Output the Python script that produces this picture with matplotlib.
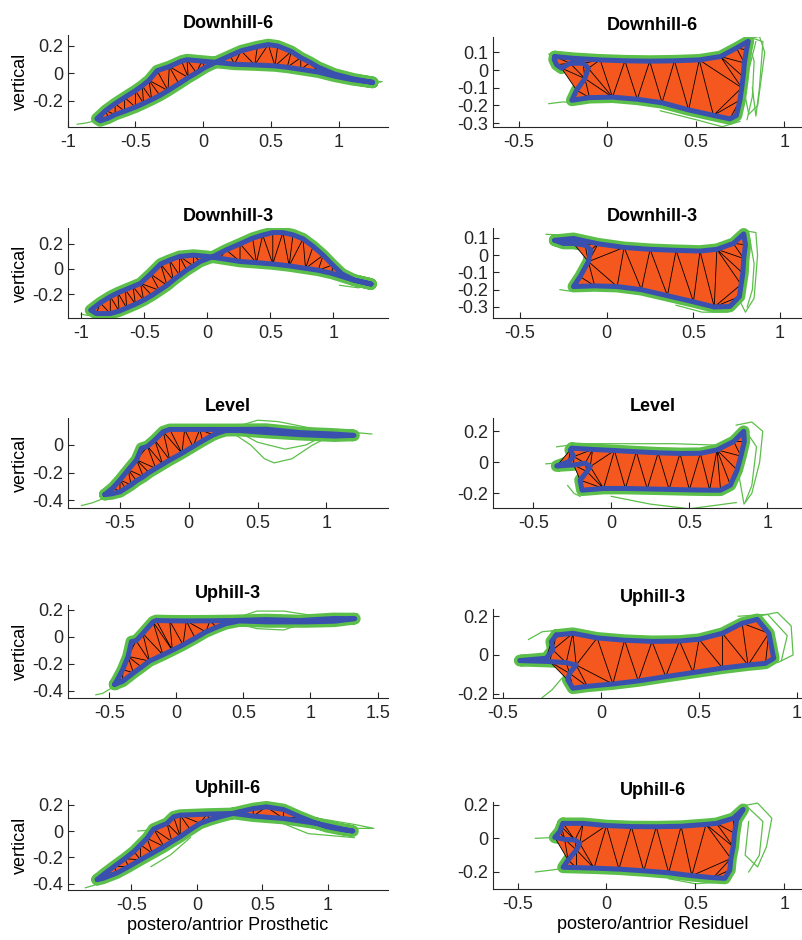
import matplotlib
matplotlib.use("Agg")
import matplotlib.pyplot as plt
import matplotlib.tri as mtri
from matplotlib.path import Path
from matplotlib.collections import PolyCollection
import numpy as np

plt.rcParams["font.family"] = ["Liberation Sans", "DejaVu Sans"]
plt.rcParams["font.size"] = 13

titles = ["Downhill-6", "Downhill-6", "Downhill-3", "Downhill-3", "Level", "Level",
          "Uphill-3", "Uphill-3", "Uphill-6", "Uphill-6"]

# mean loops (blue outline), prosthetic side = left column, residual = right column
dh6_pros_x = [1.25, 1.1, 0.97, 0.85, 0.72, 0.62, 0.53, 0.38, 0.23, 0.1, -0.01, -0.12, -0.16, -0.25, -0.34,
              -0.40, -0.45, -0.50, -0.58, -0.65, -0.72, -0.785, -0.76, -0.70, -0.65, -0.58, -0.50, -0.44,
              -0.38, -0.32, -0.26, -0.18, -0.11, -0.05, 0.012, 0.11, 0.2, 0.28, 0.40, 0.48, 0.55, 0.65,
              0.72, 0.79, 0.85, 0.97, 1.11]
dh6_pros_y = [-0.065, -0.045, -0.02, 0.01, 0.03, 0.045, 0.055, 0.062, 0.067, 0.08, 0.09, 0.10, 0.09, 0.05,
              0.02, -0.05, -0.09, -0.125, -0.175, -0.22, -0.27, -0.33, -0.345, -0.325, -0.30, -0.275,
              -0.245, -0.218, -0.19, -0.16, -0.125, -0.075, -0.03, 0.005, 0.043, 0.09, 0.13, 0.165, 0.195,
              0.21, 0.2, 0.16, 0.115, 0.08, 0.045, -0.005, -0.04]

dh6_res_x = [-0.296, -0.19, -0.04, 0.1, 0.24, 0.38, 0.52, 0.64, 0.73, 0.797, 0.787, 0.775, 0.768, 0.76,
             0.75, 0.73, 0.693, 0.60, 0.46, 0.31, 0.17, 0.03, -0.1, -0.2, -0.173, -0.126, -0.107, -0.136,
             -0.21, -0.258, -0.286, -0.30]
dh6_res_y = [0.076, 0.066, 0.057, 0.052, 0.05, 0.052, 0.057, 0.076, 0.124, 0.162, 0.114, 0.04, -0.038, -0.1,
             -0.17, -0.257, -0.276, -0.256, -0.225, -0.185, -0.165, -0.153, -0.156, -0.171, -0.114, -0.048,
             0.01, 0.038, 0.038, 0.01, 0.03, 0.06]

dh3_pros_x = [1.30, 1.15, 0.99, 0.88, 0.78, 0.65, 0.52, 0.39, 0.26, 0.10, 0.0, -0.11, -0.22, -0.30, -0.37,
              -0.45, -0.53, -0.59, -0.65, -0.71, -0.77, -0.85, -0.926, -0.88, -0.77, -0.70, -0.64, -0.57,
              -0.505, -0.44, -0.38, -0.32, -0.27, -0.22, -0.163, -0.11, -0.058, 0.047, 0.15, 0.26, 0.36,
              0.44, 0.52, 0.60, 0.68, 0.76, 0.84, 0.92, 0.995, 1.07, 1.17]
dh3_pros_y = [-0.12, -0.085, -0.035, -0.01, 0.005, 0.025, 0.04, 0.05, 0.06, 0.085, 0.10, 0.11, 0.10, 0.07,
              0.04, -0.04, -0.115, -0.14, -0.165, -0.19, -0.22, -0.27, -0.328, -0.355, -0.355, -0.335,
              -0.31, -0.28, -0.248, -0.21, -0.17, -0.13, -0.088, -0.05, -0.008, 0.025, 0.059, 0.099, 0.152,
              0.2, 0.245, 0.27, 0.29, 0.29, 0.272, 0.24, 0.18, 0.11, 0.032, -0.04, -0.09]

dh3_res_x = [-0.30, -0.192, -0.05, 0.1, 0.25, 0.40, 0.538, 0.635, 0.73, 0.79, 0.80, 0.79, 0.785, 0.775,
             0.765, 0.71, 0.62, 0.5, 0.35, 0.2, 0.06, -0.07, -0.192, -0.154, -0.106, -0.092, -0.125,
             -0.192, -0.25]
dh3_res_y = [0.085, 0.096, 0.065, 0.044, 0.033, 0.027, 0.023, 0.033, 0.067, 0.122, 0.06, -0.02, -0.105,
             -0.17, -0.24, -0.297, -0.30, -0.27, -0.235, -0.2, -0.182, -0.178, -0.182, -0.125, -0.038,
             0.029, 0.057, 0.067, 0.067]

lev_pros_x = [-0.61, -0.55, -0.5, -0.44, -0.38, -0.344, -0.30, -0.247, -0.186, -0.138, -0.03, 0.08, 0.20,
              0.32, 0.56, 0.81, 1.05, 1.2, 1.06, 0.82, 0.57, 0.37, 0.27, 0.22, 0.177, 0.10, 0.03, -0.05,
              -0.138, -0.19, -0.24, -0.29, -0.33, -0.38, -0.42, -0.46, -0.5, -0.56]
lev_pros_y = [-0.36, -0.31, -0.254, -0.18, -0.108, -0.024, -0.01, 0.036, 0.097, 0.113, 0.113, 0.113, 0.113,
              0.113, 0.115, 0.09, 0.08, 0.07, 0.065, 0.075, 0.09, 0.105, 0.105, 0.09, 0.073, 0.03, -0.012,
              -0.06, -0.109, -0.14, -0.17, -0.2, -0.23, -0.26, -0.29, -0.315, -0.34, -0.355]

lev_res_x = [-0.252, -0.12, 0.02, 0.16, 0.3, 0.44, 0.57, 0.677, 0.784, 0.848, 0.852, 0.83, 0.806, 0.763,
             0.70, 0.63, 0.5, 0.37, 0.23, 0.09, -0.05, -0.188, -0.2, -0.156, -0.135, -0.167, -0.241, -0.35,
             -0.274, -0.241, -0.263]
lev_res_y = [0.091, 0.083, 0.076, 0.068, 0.061, 0.057, 0.058, 0.08, 0.134, 0.2, 0.134, 0.04, -0.05, -0.147,
             -0.18, -0.18, -0.178, -0.175, -0.172, -0.169, -0.169, -0.18, -0.115, -0.06, -0.028, -0.006,
             -0.017, -0.024, 0.004, 0.037, 0.08]

up3_pros_x = [-0.46, -0.43, -0.40, -0.36, -0.335, -0.30, -0.25, -0.174, -0.15, -0.05, 0.074, 0.25, 0.42,
              0.67, 0.92, 1.17, 1.33, 1.18, 0.97, 0.68, 0.47, 0.37, 0.30, 0.22, 0.14, 0.05, -0.03, -0.1,
              -0.2, -0.26, -0.32, -0.40]
up3_pros_y = [-0.353, -0.3, -0.243, -0.146, -0.036, -0.03, 0.024, 0.11, 0.12, 0.118, 0.117, 0.118, 0.12,
              0.127, 0.12, 0.135, 0.134, 0.115, 0.11, 0.11, 0.117, 0.097, 0.07, 0.036, -0.01, -0.06, -0.1,
              -0.134, -0.18, -0.225, -0.268, -0.33]

up3_res_x = [-0.229, -0.144, -0.02, 0.12, 0.26, 0.4, 0.5, 0.619, 0.72, 0.797, 0.856, 0.881, 0.839, 0.75,
             0.62, 0.47, 0.33, 0.19, 0.06, -0.07, -0.144, -0.17, -0.161, -0.127, -0.178, -0.263, -0.415,
             -0.28, -0.246, -0.254]
up3_res_y = [0.103, 0.112, 0.088, 0.076, 0.07, 0.072, 0.081, 0.112, 0.164, 0.184, 0.112, -0.017, -0.043,
             -0.052, -0.068, -0.091, -0.112, -0.134, -0.15, -0.162, -0.172, -0.129, -0.095, -0.052, -0.04,
             -0.034, -0.029, -0.017, 0.026, 0.069]

up6_pros_x = [-0.76, -0.70, -0.63, -0.55, -0.48, -0.43, -0.38, -0.33, -0.228, -0.177, -0.127, 0.076, 0.278,
              0.43, 0.66, 0.91, 1.14, 1.19, 1.10, 0.99, 0.88, 0.785, 0.66, 0.53, 0.43, 0.30, 0.177, 0.10,
              0.025, -0.05, -0.127, -0.19, -0.25, -0.34, -0.43, -0.52, -0.61, -0.72]
up6_pros_y = [-0.368, -0.32, -0.268, -0.21, -0.155, -0.105, -0.055, 0.015, 0.058, 0.108, 0.12, 0.128, 0.133,
              0.113, 0.095, 0.058, 0.008, 0.0, 0.012, 0.033, 0.07, 0.108, 0.163, 0.183, 0.17, 0.14, 0.108,
              0.085, 0.058, 0.01, -0.043, -0.08, -0.118, -0.168, -0.218, -0.27, -0.318, -0.36]

up6_res_x = [-0.244, -0.131, 0.0, 0.14, 0.28, 0.42, 0.56, 0.619, 0.713, 0.769, 0.732, 0.72, 0.713, 0.70,
             0.694, 0.666, 0.6, 0.48, 0.35, 0.21, 0.07, -0.07, -0.169, -0.244, -0.216, -0.169, -0.15,
             -0.178, -0.235, -0.291, -0.263, -0.253]
up6_res_y = [0.089, 0.089, 0.076, 0.07, 0.069, 0.072, 0.083, 0.089, 0.119, 0.172, 0.109, 0.03, -0.05, -0.12,
             -0.188, -0.238, -0.234, -0.222, -0.205, -0.193, -0.183, -0.177, -0.174, -0.172, -0.129,
             -0.069, -0.03, -0.01, -0.006, 0.006, 0.04, 0.069]

# a few single trials (green) that stray from the mean loop
dh6_pros_extra = [([-0.93, -0.86, -0.78, -0.7], [-0.37, -0.36, -0.34, -0.3]),
                  ([1.0, 1.15, 1.32, 1.2], [-0.01, -0.04, -0.06, -0.08])]
dh6_res_extra = [([0.78, 0.86, 0.89, 0.87, 0.85, 0.8, 0.78, 0.8, 0.84], [0.17, 0.19, 0.1, -0.05, -0.2, -0.25, -0.15, 0.0, 0.16]),
                 ([0.8, 0.83, 0.82, 0.79], [0.15, 0.05, -0.15, -0.28]),
                 ([0.82, 0.88, 0.86, 0.84, 0.82], [0.18, 0.16, -0.1, -0.26, -0.1]),
                 ([-0.33, -0.26, -0.15], [0.09, 0.1, 0.085]),
                 ([-0.33, -0.25, -0.15], [-0.19, -0.18, -0.19]),
                 ([0.3, 0.5, 0.65, 0.75], [-0.23, -0.28, -0.32, -0.29])]
dh3_pros_extra = [([-1.0, -0.95, -0.85, -0.75], [-0.36, -0.37, -0.37, -0.36]),
                  ([1.05, 1.2, 1.33, 1.15], [-0.13, -0.15, -0.11, -0.1])]
dh3_res_extra = [([0.8, 0.86, 0.87, 0.85, 0.8, 0.76, 0.8], [0.14, 0.13, 0.0, -0.25, -0.33, -0.25, 0.05]),
                 ([0.82, 0.85, 0.84, 0.81], [0.12, -0.05, -0.2, -0.3]),
                 ([-0.35, -0.25, -0.15], [0.12, 0.115, 0.1]),
                 ([-0.27, -0.2, -0.1], [-0.2, -0.21, -0.195]),
                 ([0.4, 0.55, 0.7], [-0.29, -0.33, -0.33])]
lev_pros_extra = [([0.3, 0.45, 0.55, 0.62, 0.75, 0.9, 1.0], [0.1, 0.0, -0.1, -0.13, -0.1, 0.0, 0.05]),
                  ([0.35, 0.5, 0.7, 0.85, 0.95], [0.1, 0.02, -0.03, 0.0, 0.05]),
                  ([0.3, 0.5, 0.65, 0.9, 1.1, 1.33], [0.12, 0.18, 0.17, 0.12, 0.1, 0.08]),
                  ([-0.78, -0.7, -0.6, -0.45], [-0.44, -0.42, -0.38, -0.28])]
lev_res_extra = [([0.8, 0.9, 0.97, 0.95, 0.9, 0.85, 0.82, 0.88], [0.24, 0.26, 0.2, 0.0, -0.2, -0.27, -0.1, 0.2]),
                 ([0.85, 0.93, 0.9, 0.86], [0.22, 0.1, -0.15, -0.25]),
                 ([0.0, 0.25, 0.5, 0.8], [-0.22, -0.27, -0.3, -0.26]),
                 ([-0.42, -0.35, -0.28], [-0.01, -0.005, 0.0]),
                 ([-0.35, -0.2, 0.1, 0.4, 0.7], [0.1, 0.12, 0.12, 0.12, 0.11]),
                 ([-0.28, -0.24, -0.2], [-0.15, -0.2, -0.22])]
up3_pros_extra = [([0.45, 0.6, 0.8, 0.95], [0.1, 0.06, 0.05, 0.1]),
                  ([0.45, 0.6, 0.8, 1.0, 1.35], [0.14, 0.19, 0.19, 0.16, 0.17]),
                  ([-0.6, -0.55, -0.45], [-0.43, -0.42, -0.36])]
up3_res_extra = [([0.8, 0.9, 0.97, 0.98, 0.9, 0.85], [0.2, 0.22, 0.15, 0.0, -0.04, 0.05]),
                 ([0.7, 0.85, 0.95, 0.92], [0.2, 0.21, 0.1, -0.03]),
                 ([-0.37, -0.3, -0.2, -0.1], [0.08, 0.12, 0.13, 0.12]),
                 ([-0.3, -0.25, -0.2, -0.1], [-0.22, -0.18, -0.12, -0.19]),
                 ([-0.44, -0.4, -0.33], [-0.03, -0.03, -0.02])]
up6_pros_extra = [([-0.85, -0.78, -0.7], [-0.43, -0.41, -0.37]),
                  ([0.7, 0.9, 1.1, 1.35, 1.2, 0.9], [0.1, 0.03, 0.02, 0.02, 0.05, 0.1]),
                  ([0.6, 0.85, 1.2], [0.08, -0.02, -0.05]),
                  ([-0.05, -0.2, -0.35], [-0.05, -0.18, -0.27]),
                  ([-0.45, -0.38, -0.3], [0.0, 0.005, 0.01])]
up6_res_extra = [([0.75, 0.85, 0.93, 0.9, 0.85, 0.78, 0.8], [0.19, 0.21, 0.12, -0.05, -0.17, -0.1, 0.1]),
                 ([0.78, 0.88, 0.86, 0.8], [0.2, 0.1, -0.1, -0.2]),
                 ([-0.4, -0.34, -0.28], [0.0, 0.003, 0.005]),
                 ([-0.4, -0.32, -0.25], [-0.2, -0.19, -0.18]),
                 ([0.35, 0.5, 0.65], [-0.24, -0.27, -0.26])]

loops_x = [dh6_pros_x, dh6_res_x, dh3_pros_x, dh3_res_x, lev_pros_x, lev_res_x,
           up3_pros_x, up3_res_x, up6_pros_x, up6_res_x]
loops_y = [dh6_pros_y, dh6_res_y, dh3_pros_y, dh3_res_y, lev_pros_y, lev_res_y,
           up3_pros_y, up3_res_y, up6_pros_y, up6_res_y]
extras = [dh6_pros_extra, dh6_res_extra, dh3_pros_extra, dh3_res_extra, lev_pros_extra, lev_res_extra,
          up3_pros_extra, up3_res_extra, up6_pros_extra, up6_res_extra]

xlims = [(-1.0, 1.366), (-0.647, 1.161), (-1.108, 1.437), (-0.658, 1.188), (-0.88, 1.45),
         (-0.76, 1.29), (-0.81, 1.58), (-0.553, 1.08), (-0.985, 1.46), (-0.64, 1.16)]
ylims = [(-0.39, 0.28), (-0.32, 0.188), (-0.388, 0.324), (-0.362, 0.158), (-0.46, 0.194),
         (-0.297, 0.284), (-0.456, 0.235), (-0.224, 0.236), (-0.447, 0.235), (-0.303, 0.218)]
xticks = [[-1, -0.5, 0, 0.5, 1], [-0.5, 0, 0.5, 1], [-1, -0.5, 0, 0.5, 1], [-0.5, 0, 0.5, 1],
          [-0.5, 0, 0.5, 1], [-0.5, 0, 0.5, 1], [-0.5, 0, 0.5, 1, 1.5], [-0.5, 0, 0.5, 1],
          [-0.5, 0, 0.5, 1], [-0.5, 0, 0.5, 1]]
yticks = [[-0.2, 0, 0.2], [-0.3, -0.2, -0.1, 0, 0.1], [-0.2, 0, 0.2], [-0.3, -0.2, -0.1, 0, 0.1],
          [-0.4, -0.2, 0], [-0.2, 0, 0.2], [-0.4, -0.2, 0, 0.2], [-0.2, 0, 0.2],
          [-0.4, -0.2, 0, 0.2], [-0.2, 0, 0.2]]

# axes boxes in pixels: (left, top, bottom)
boxes = [(67.7, 35, 127), (492.7, 36.7, 126.7), (67.7, 228.3, 317.7), (492.7, 227.7, 317.7),
         (67.7, 418.3, 508.3), (492.7, 418.3, 508.3), (67.7, 605, 698.3), (492.7, 609.3, 698.3),
         (67.7, 800, 890), (492.7, 801.7, 889.3)]

W, H = 803, 940
green = "#5cbf4a"
orange = "#f4581f"
blue = "#3a50ae"
dark = "#262626"

fig = plt.figure(figsize=(W / 100, H / 100), dpi=100)

for i in range(10):
    left, top, bottom = boxes[i]
    width = 320.6 if i % 2 == 0 else 320
    ax = fig.add_axes([left / W, 1 - bottom / H, width / W, (bottom - top) / H])
    x = np.array(loops_x[i])
    y = np.array(loops_y[i])
    xc = np.append(x, x[0])
    yc = np.append(y, y[0])

    # trials
    ax.plot(xc, yc, color=green, lw=8.5, solid_capstyle="round", solid_joinstyle="round", zorder=1)
    for ex, ey in extras[i]:
        ax.plot(ex, ey, color=green, lw=0.9, zorder=1)

    # filled area + triangulation (inside triangles plus small ones in tight corners)
    tri = mtri.Triangulation(x, y)
    path = Path(np.column_stack([xc, yc]))
    t = tri.triangles
    cx = x[t].mean(axis=1)
    cy = y[t].mean(axis=1)
    inside = path.contains_points(np.column_stack([cx, cy]))
    a = np.hypot(x[t[:, 1]] - x[t[:, 2]], y[t[:, 1]] - y[t[:, 2]])
    b = np.hypot(x[t[:, 0]] - x[t[:, 2]], y[t[:, 0]] - y[t[:, 2]])
    c = np.hypot(x[t[:, 0]] - x[t[:, 1]], y[t[:, 0]] - y[t[:, 1]])
    area = 0.5 * np.abs((x[t[:, 1]] - x[t[:, 0]]) * (y[t[:, 2]] - y[t[:, 0]])
                        - (x[t[:, 2]] - x[t[:, 0]]) * (y[t[:, 1]] - y[t[:, 0]]))
    radius = a * b * c / (4 * np.maximum(area, 1e-12))
    keep = inside | (radius < 0.09)
    tri.set_mask(~keep)
    ax.fill(x, y, color=orange, lw=0, zorder=2)
    polys = [np.column_stack([x[k], y[k]]) for k in t[keep]]
    ax.add_collection(PolyCollection(polys, facecolors=orange, edgecolors="none", zorder=2))
    ax.triplot(tri, color="black", lw=0.6, zorder=3)

    # mean loop
    ax.plot(xc, yc, color=blue, lw=3.6, solid_joinstyle="round", solid_capstyle="round", zorder=4)

    ax.set_xlim(xlims[i])
    ax.set_ylim(ylims[i])
    ax.set_xticks(xticks[i])
    ax.set_yticks(yticks[i])
    ax.set_xticklabels(["%g" % v for v in xticks[i]])
    ax.set_yticklabels(["%g" % v for v in yticks[i]])
    ax.spines["top"].set_visible(False)
    ax.spines["right"].set_visible(False)
    for s in ("left", "bottom"):
        ax.spines[s].set_color(dark)
        ax.spines[s].set_linewidth(0.8)
    ax.tick_params(direction="in", length=4, width=0.8, colors=dark, labelsize=13)
    ax.tick_params(axis="x", pad=5)
    ax.tick_params(axis="y", pad=3)
    ax.set_title(titles[i], fontsize=13, fontweight="bold", pad=5)
    if i % 2 == 0:
        ax.set_ylabel("vertical", fontsize=13, labelpad=3)
    if i == 8:
        ax.set_xlabel("postero/antrior Prosthetic", fontsize=13, labelpad=2)
    if i == 9:
        ax.set_xlabel("postero/antrior Residuel", fontsize=13, labelpad=2)

fig.savefig("out.png", dpi=100)
